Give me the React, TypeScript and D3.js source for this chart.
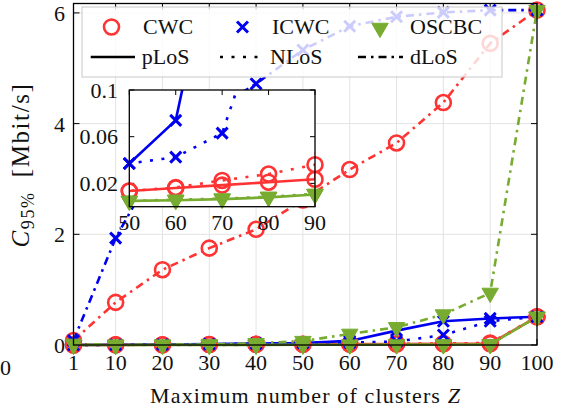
import React from 'react';
import * as d3 from 'd3';

// Maximum number of clusters Z
const Z = [1, 10, 20, 30, 40, 50, 60, 70, 80, 90, 100];

// C_95% in Mbit/s per scheme and LoS model
const cwcPLoS = [0.001, 0.003, 0.005, 0.008, 0.011, 0.0135, 0.016, 0.0185, 0.021, 0.0235, 0.51];
const cwcNLoS = [0.001, 0.003, 0.005, 0.008, 0.011, 0.0135, 0.0165, 0.0225, 0.028, 0.036, 0.51];
const cwcDLoS = [0.08, 0.77, 1.36, 1.75, 2.09, 2.62, 3.17, 3.65, 4.38, 5.45, 6.05];

const icwcPLoS = [0.001, 0.004, 0.008, 0.015, 0.025, 0.037, 0.074, 0.26, 0.43, 0.48, 0.51];
const icwcNLoS = [0.001, 0.004, 0.008, 0.015, 0.025, 0.037, 0.0425, 0.063, 0.18, 0.43, 0.51];
const icwcDLoS = [0.08, 1.93, 3.45, 4.2, 4.72, 5.33, 5.76, 5.93, 6.01, 6.05, 6.05];

const oscbcPLoS = [0.0005, 0.001, 0.0015, 0.002, 0.003, 0.005, 0.0055, 0.0065, 0.008, 0.0105, 0.51];
const oscbcNLoS = [0.0005, 0.001, 0.0015, 0.002, 0.003, 0.005, 0.006, 0.007, 0.0085, 0.011, 0.51];
const oscbcDLoS = [0.02, 0.002, 0.005, 0.01, 0.03, 0.07, 0.2, 0.32, 0.55, 0.94, 6.05];

const X_TICKS = [1, 10, 20, 30, 40, 50, 60, 70, 80, 90, 100];
const Y_TICKS = [0, 2, 4, 6];
const INSET_X_TICKS = [50, 60, 70, 80, 90];
const INSET_Y_TICKS = [0.02, 0.06, 0.1];
const INSET_Y_LABELS = ['0.02', '0.06', '0.1'];

const SCHEMES = ['CWC', 'ICWC', 'OSCBC'];
const LOS_TYPES = ['pLoS', 'NLoS', 'dLoS'];
const INSET_LOS_TYPES = ['pLoS', 'NLoS'];

const SERIES: Record<string, Record<string, number[]>> = {
  CWC: { pLoS: cwcPLoS, NLoS: cwcNLoS, dLoS: cwcDLoS },
  ICWC: { pLoS: icwcPLoS, NLoS: icwcNLoS, dLoS: icwcDLoS },
  OSCBC: { pLoS: oscbcPLoS, NLoS: oscbcNLoS, dLoS: oscbcDLoS },
};

const COLORS: Record<string, string> = { CWC: '#ff3333', ICWC: '#0000f0', OSCBC: '#77ac30' };
const MARKERS: Record<string, string> = { CWC: 'circle', ICWC: 'cross', OSCBC: 'triangle' };
const DASHES: Record<string, string | undefined> = { pLoS: undefined, NLoS: '3 8.5', dLoS: '8 5 2.5 5' };

const FONT = "'Liberation Serif', 'Times New Roman', serif";
const W = 562;
const H = 412;

// main axes frame
const L = 73.5, R = 537, T = 3.5, B = 345;
// inset frame
const IL = 129.3, IR = 315, IT = 90, IB = 206.7;

const x = d3.scaleLinear().domain([1, 100]).range([L, R]);
const y = d3.scaleLinear().domain([0, 6.17]).range([B, T]);
const xi = d3.scaleLinear().domain([50, 90]).range([IL, IR]);
const yi = d3.scaleLinear().domain([0, 0.1]).range([IB, IT]);

function Marker({ kind, color, cx, cy }: { kind: string; color: string; cx: number; cy: number }) {
  if (kind === 'circle') {
    return <circle cx={cx} cy={cy} r={7.5} fill="none" stroke={color} strokeWidth={2.6} />;
  }
  if (kind === 'cross') {
    const s = 5.5;
    return (
      <path
        d={`M${cx - s},${cy - s}L${cx + s},${cy + s}M${cx - s},${cy + s}L${cx + s},${cy - s}`}
        stroke={color}
        strokeWidth={3}
        fill="none"
      />
    );
  }
  const r = 9.5;
  const pts = [
    [cx, cy + r],
    [cx - 0.866 * r, cy - 0.5 * r],
    [cx + 0.866 * r, cy - 0.5 * r],
  ];
  return <polygon points={pts.map((p) => p.join(',')).join(' ')} fill={color} stroke={color} strokeWidth={1} />;
}

function SeriesLayer({
  xs,
  ys,
  types,
  clipId,
  inRange,
}: {
  xs: d3.ScaleLinear<number, number>;
  ys: d3.ScaleLinear<number, number>;
  types: string[];
  clipId?: string;
  inRange?: (z: number, v: number) => boolean;
}) {
  const items: React.ReactNode[] = [];
  types.forEach((los) => {
    SCHEMES.forEach((sc) => {
      const vals = SERIES[sc][los];
      const line = d3
        .line<number>()
        .x((_, i) => xs(Z[i]))
        .y((v) => ys(v));
      items.push(
        <g key={`${sc}-${los}`}>
          <path
            d={line(vals) || ''}
            fill="none"
            stroke={COLORS[sc]}
            strokeWidth={2.6}
            strokeDasharray={DASHES[los]}
            clipPath={clipId ? `url(#${clipId})` : undefined}
          />
          {vals.map((v, i) =>
            !inRange || inRange(Z[i], v) ? (
              <Marker key={i} kind={MARKERS[sc]} color={COLORS[sc]} cx={xs(Z[i])} cy={ys(v)} />
            ) : null
          )}
        </g>
      );
    });
  });
  return <g>{items}</g>;
}

export default function App() {
  const tickLen = 6;
  return (
    <svg
      width={W}
      height={H}
      viewBox={`0 0 ${W} ${H}`}
      style={{ position: 'absolute', left: 0, top: 0, background: '#fff' }}
      fontFamily={FONT}
    >
      <defs>
        <clipPath id="inset-clip">
          <rect x={IL} y={IT} width={IR - IL} height={IB - IT} />
        </clipPath>
      </defs>
      <rect x={0} y={0} width={W} height={H} fill="#fff" />

      {/* grid */}
      <g stroke="#e3e3e3" strokeWidth={1}>
        {X_TICKS.map((t) => (
          <line key={`gx${t}`} x1={x(t)} x2={x(t)} y1={T} y2={B} />
        ))}
        {Y_TICKS.map((t) => (
          <line key={`gy${t}`} x1={L} x2={R} y1={y(t)} y2={y(t)} />
        ))}
      </g>

      {/* tick marks */}
      <g stroke="#000" strokeWidth={1}>
        {X_TICKS.map((t) => (
          <g key={`tx${t}`}>
            <line x1={x(t)} x2={x(t)} y1={B} y2={B - tickLen} />
            <line x1={x(t)} x2={x(t)} y1={T} y2={T + tickLen} />
          </g>
        ))}
        {Y_TICKS.map((t) => (
          <g key={`ty${t}`}>
            <line x1={L} x2={L + tickLen} y1={y(t)} y2={y(t)} />
            <line x1={R} x2={R - tickLen} y1={y(t)} y2={y(t)} />
          </g>
        ))}
      </g>

      {/* main series */}
      <SeriesLayer xs={x} ys={y} types={LOS_TYPES} />

      {/* frame */}
      <rect x={L} y={T} width={R - L} height={B - T} fill="none" stroke="#000" strokeWidth={1.3} />

      {/* tick labels */}
      <g fontSize={22} fill="#111">
        {X_TICKS.map((t) => (
          <text key={`lx${t}`} x={x(t)} y={369.5} textAnchor="middle">
            {t}
          </text>
        ))}
        {Y_TICKS.map((t) => (
          <text key={`ly${t}`} x={65} y={y(t) + 8} textAnchor="end">
            {t}
          </text>
        ))}
      </g>

      {/* axis titles */}
      <text x={305} y={403} fontSize={22} textAnchor="middle" textLength={310} lengthAdjust="spacing" fill="#111">
        Maximum number of clusters <tspan fontStyle="italic">Z</tspan>
      </text>
      <text
        transform="translate(29,165) rotate(-90)"
        fontSize={25}
        letterSpacing={1.6}
        textAnchor="middle"
        fill="#111"
      >
        <tspan fontStyle="italic">C</tspan>
        <tspan fontSize={18} dy={5}>
          95%
        </tspan>
        <tspan dy={-5}>{'\u2002[Mbit/s]'}</tspan>
      </text>

      {/* neighbouring panel's tick label at the left edge */}
      <text x={0} y={375} fontSize={22} fill="#111">
        0
      </text>

      {/* inset */}
      <rect x={IL} y={IT} width={IR - IL} height={IB - IT} fill="#fff" />
      <g stroke="#000" strokeWidth={1}>
        {INSET_X_TICKS.map((t) => (
          <g key={`itx${t}`}>
            <line x1={xi(t)} x2={xi(t)} y1={IB} y2={IB - 5} />
            <line x1={xi(t)} x2={xi(t)} y1={IT} y2={IT + 5} />
          </g>
        ))}
        {INSET_Y_TICKS.map((t) => (
          <g key={`ity${t}`}>
            <line x1={IL} x2={IL + 5} y1={yi(t)} y2={yi(t)} />
            <line x1={IR} x2={IR - 5} y1={yi(t)} y2={yi(t)} />
          </g>
        ))}
      </g>
      <SeriesLayer
        xs={xi}
        ys={yi}
        types={INSET_LOS_TYPES}
        clipId="inset-clip"
        inRange={(z, v) => z >= 50 && z <= 90 && v <= 0.1 && v >= 0}
      />
      <rect x={IL} y={IT} width={IR - IL} height={IB - IT} fill="none" stroke="#000" strokeWidth={1.3} />
      <g fontSize={22} fill="#111">
        {INSET_X_TICKS.map((t) => (
          <text key={`ilx${t}`} x={xi(t)} y={230} textAnchor="middle">
            {t}
          </text>
        ))}
        {INSET_Y_TICKS.map((t, i) => (
          <text key={`ily${t}`} x={118} y={yi(t) + 7.5} textAnchor="end">
            {INSET_Y_LABELS[i]}
          </text>
        ))}
      </g>

      {/* legend */}
      <g>
        <rect x={82} y={7} width={420} height={70} fill="#fff" fillOpacity={0.8} stroke="#c8c8c8" strokeWidth={1} />
        <Marker kind="circle" color={COLORS.CWC} cx={111.5} cy={27} />
        <Marker kind="cross" color={COLORS.ICWC} cx={242.5} cy={27} />
        <Marker kind="triangle" color={COLORS.OSCBC} cx={380} cy={28} />
        <line x1={90.7} x2={135} y1={57} y2={57} stroke="#000" strokeWidth={2.6} />
        <line x1={220} x2={265} y1={57} y2={57} stroke="#000" strokeWidth={2.6} strokeDasharray={DASHES.NLoS} />
        <line x1={358} x2={403} y1={57} y2={57} stroke="#000" strokeWidth={2.6} strokeDasharray={DASHES.dLoS} />
        <g fontSize={22} fill="#111">
          <text x={143} y={34}>CWC</text>
          <text x={272} y={34}>ICWC</text>
          <text x={410} y={34}>OSCBC</text>
          <text x={141.7} y={64}>pLoS</text>
          <text x={270} y={64}>NLoS</text>
          <text x={410} y={64}>dLoS</text>
        </g>
      </g>
    </svg>
  );
}
